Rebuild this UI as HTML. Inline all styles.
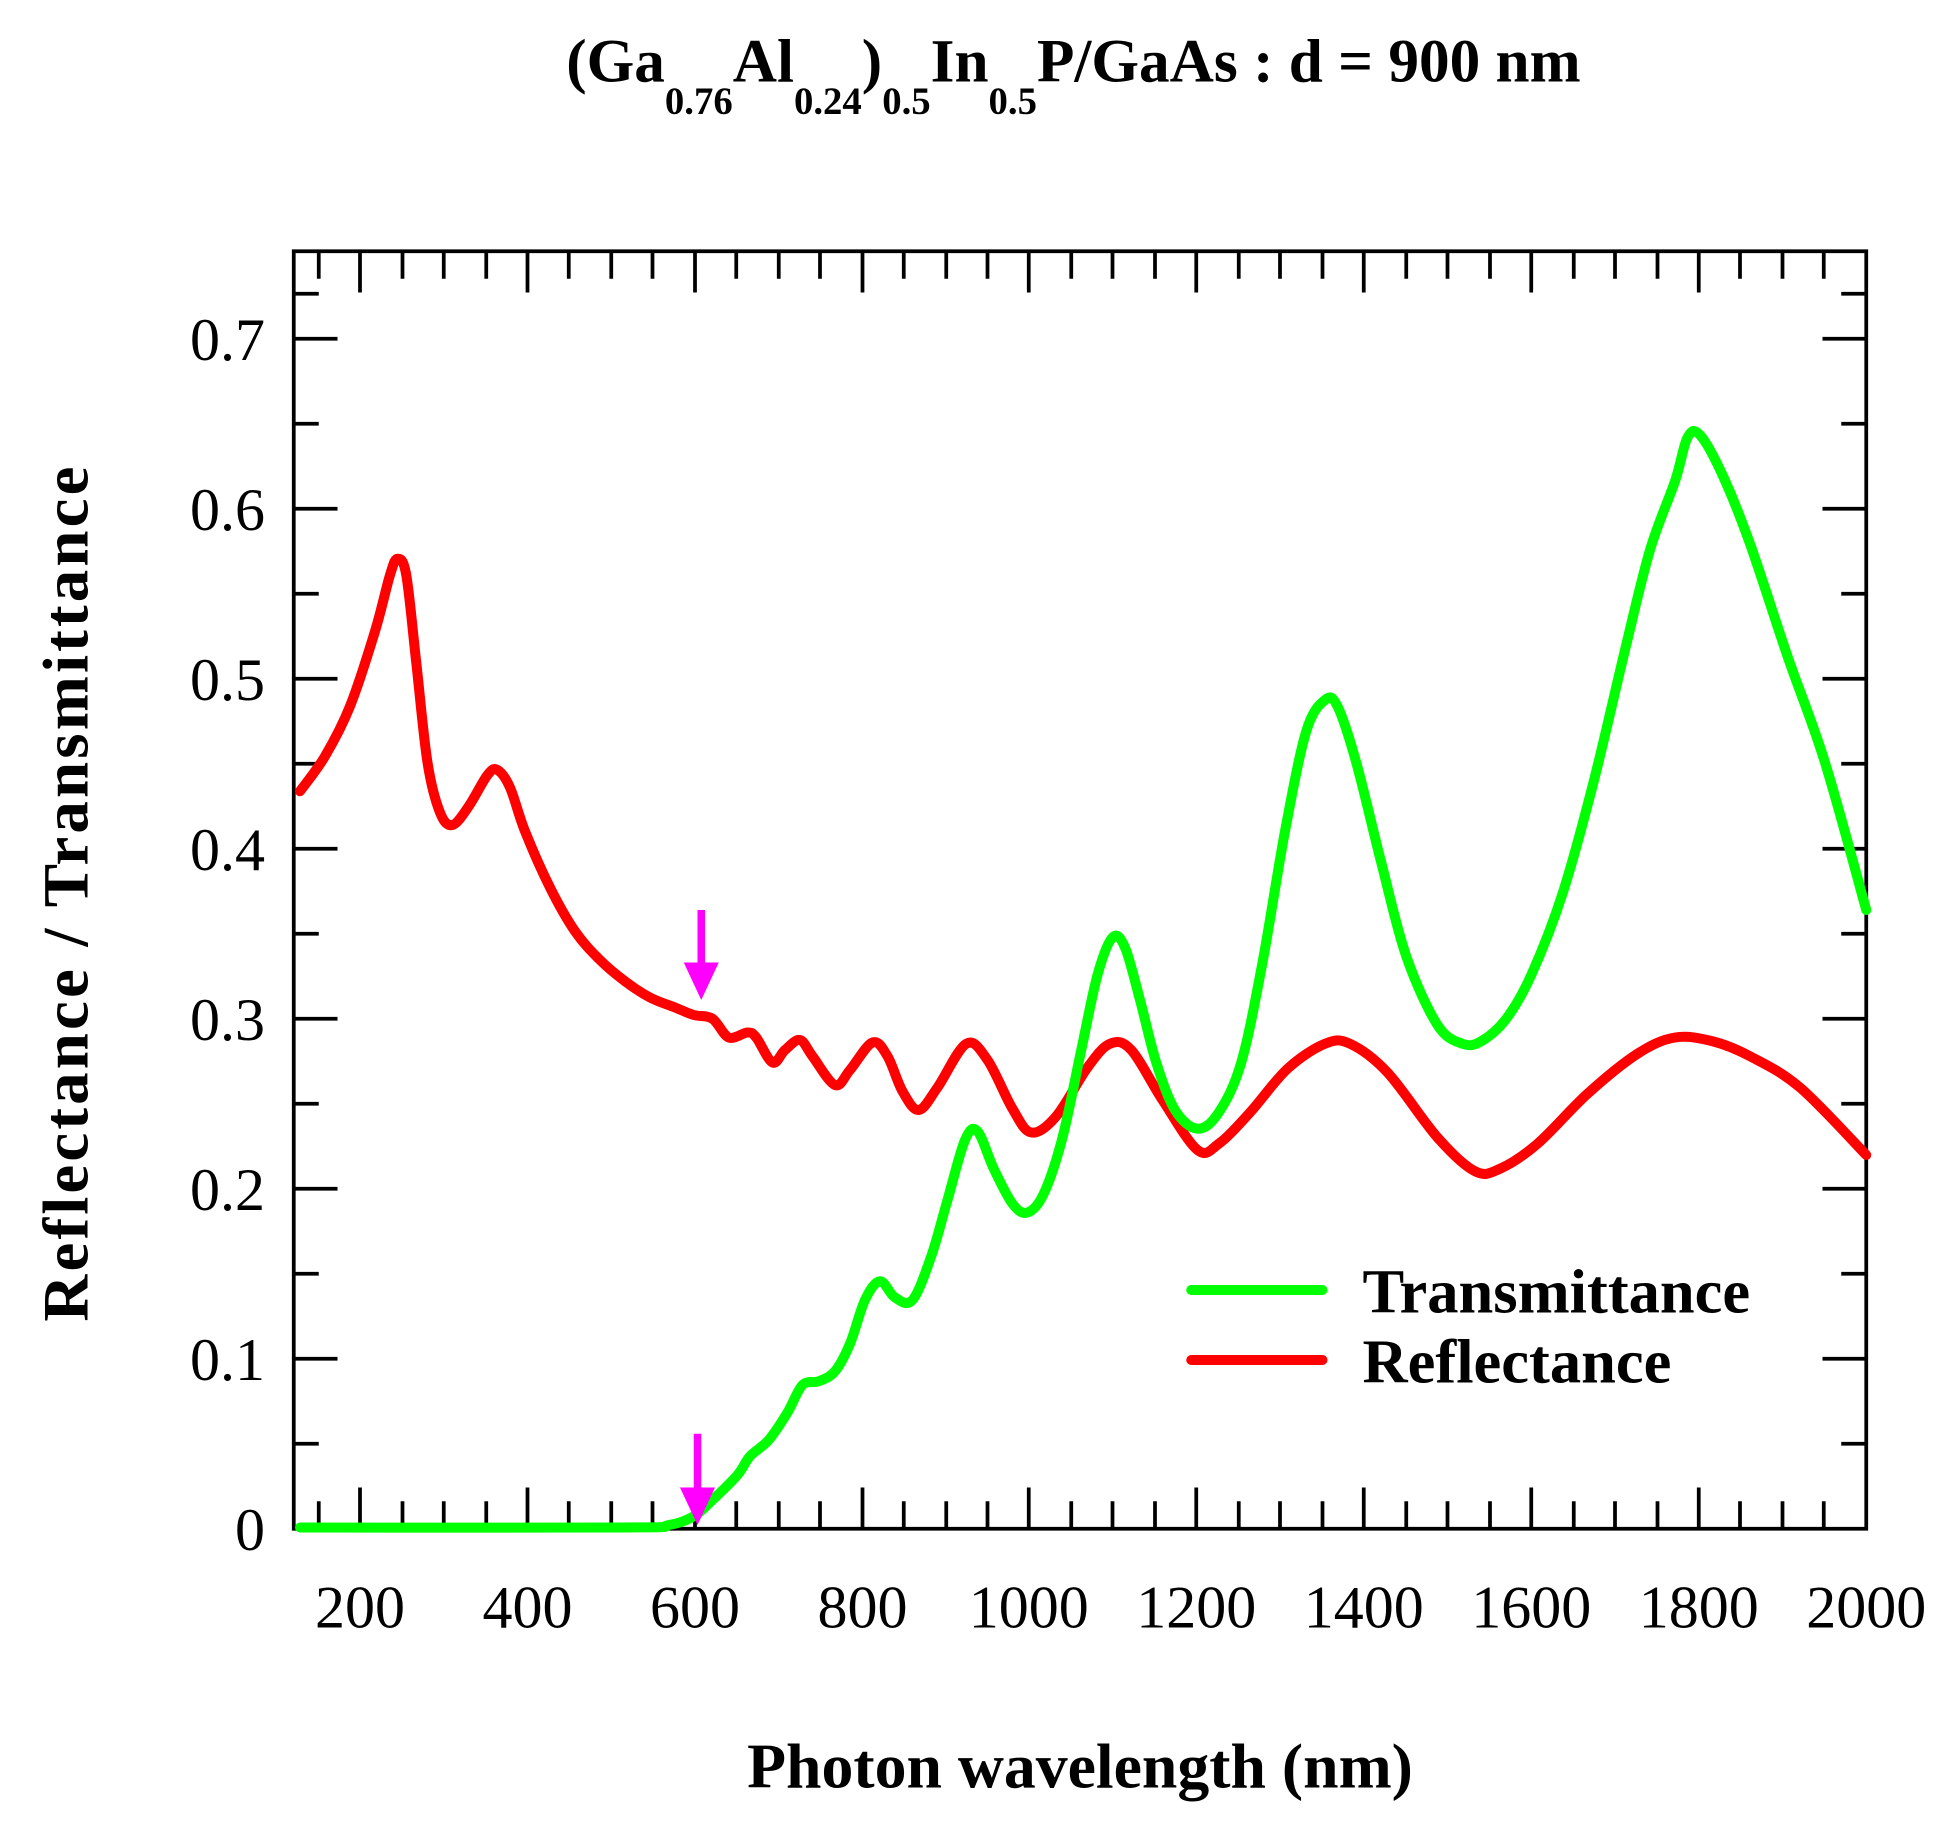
<!DOCTYPE html>
<html><head><meta charset="utf-8"><style>html,body{margin:0;padding:0;background:#fff}svg{display:block}</style></head>
<body>
<svg width="1950" height="1826" viewBox="0 0 1560 1460.8" xmlns="http://www.w3.org/2000/svg" font-family="'Liberation Serif', serif">
<rect x="0" y="0" width="1560" height="1461" fill="#fff"/>
<text x="453" y="65" font-size="49" font-weight="bold">(Ga<tspan font-size="31" dy="26">0.76</tspan><tspan dy="-26">Al</tspan><tspan font-size="31" dy="26">0.24</tspan><tspan dy="-26">)</tspan><tspan font-size="31" dy="26">0.5</tspan><tspan dy="-26">In</tspan><tspan font-size="31" dy="26">0.5</tspan><tspan dy="-26">P/GaAs : d = 900 nm</tspan></text>
<g stroke="#000" stroke-width="3" fill="none">
<rect x="235" y="201" width="1258" height="1022"/>
<path d="
M235,271h35 M235,407h35 M235,543h35 M235,679h35 M235,815h35 M235,951h35 M235,1087h35
M235,235h20 M235,339h20 M235,475h20 M235,611h20 M235,747h20 M235,883h20 M235,1019h20 M235,1155h20
M1493,271h-35 M1493,407h-35 M1493,543h-35 M1493,679h-35 M1493,815h-35 M1493,951h-35 M1493,1087h-35
M1493,235h-20 M1493,339h-20 M1493,475h-20 M1493,611h-20 M1493,747h-20 M1493,883h-20 M1493,1019h-20 M1493,1155h-20"/>
<path d="
M288,1223v-33 M422,1223v-33 M556,1223v-33 M690,1223v-33 M823,1223v-33 M957,1223v-33 M1091,1223v-33 M1225,1223v-33 M1359,1223v-33
M255,1223v-22 M322,1223v-22 M355,1223v-22 M389,1223v-22 M455,1223v-22 M489,1223v-22 M522,1223v-22 M589,1223v-22 M623,1223v-22 M656,1223v-22 M723,1223v-22 M757,1223v-22 M790,1223v-22 M857,1223v-22 M890,1223v-22 M924,1223v-22 M991,1223v-22 M1024,1223v-22 M1058,1223v-22 M1125,1223v-22 M1158,1223v-22 M1192,1223v-22 M1259,1223v-22 M1292,1223v-22 M1326,1223v-22 M1392,1223v-22 M1426,1223v-22 M1459,1223v-22
M288,201v33 M422,201v33 M556,201v33 M690,201v33 M823,201v33 M957,201v33 M1091,201v33 M1225,201v33 M1359,201v33
M255,201v22 M322,201v22 M355,201v22 M389,201v22 M455,201v22 M489,201v22 M522,201v22 M589,201v22 M623,201v22 M656,201v22 M723,201v22 M757,201v22 M790,201v22 M857,201v22 M890,201v22 M924,201v22 M991,201v22 M1024,201v22 M1058,201v22 M1125,201v22 M1158,201v22 M1192,201v22 M1259,201v22 M1292,201v22 M1326,201v22 M1392,201v22 M1426,201v22 M1459,201v22"/>
</g>
<g font-size="48" text-anchor="end">
<text x="212" y="288">0.7</text><text x="212" y="424">0.6</text><text x="212" y="560">0.5</text><text x="212" y="696">0.4</text><text x="212" y="832">0.3</text><text x="212" y="968">0.2</text><text x="212" y="1104">0.1</text><text x="212" y="1240">0</text>
</g>
<g font-size="48" text-anchor="middle">
<text x="288" y="1302">200</text><text x="422" y="1302">400</text><text x="556" y="1302">600</text><text x="690" y="1302">800</text><text x="823" y="1302">1000</text><text x="957" y="1302">1200</text><text x="1091" y="1302">1400</text><text x="1225" y="1302">1600</text><text x="1359" y="1302">1800</text><text x="1493" y="1302">2000</text>
</g>
<text x="864" y="1430" font-size="51" font-weight="bold" text-anchor="middle">Photon wavelength (nm)</text>
<text transform="translate(70,714) rotate(-90)" font-size="52" font-weight="bold" text-anchor="middle" letter-spacing="2.5">Reflectance / Transmittance</text>
<g fill="none" stroke-width="8" stroke-linejoin="round" stroke-linecap="round">
<path id="red" stroke="#ff0000" data-p="240,633 260,605 280,565 300,505 312,460 318,447 325,460 333,530 342,610 352,650 362,660 375,645 390,620 398,616 408,630 420,665 440,710 460,745 480,768 500,785 520,798 540,806 555,812 570,815 583,830 598,826 605,830 618,850 628,840 640,832 650,845 668,868 680,856 698,834 710,845 722,873 735,888 750,870 773,835 790,848 810,887 825,906 845,893 870,854 888,835 905,840 930,880 958,920 975,915 1000,890 1030,855 1060,835 1080,835 1110,858 1150,910 1180,937 1200,935 1230,915 1270,875 1310,843 1340,830 1370,833 1400,845 1440,870 1493,924"/>
<path id="grn" stroke="#00ff00" data-p="240,1222 500,1222 535,1220 555,1213 570,1200 590,1180 600,1165 615,1152 630,1130 642,1108 655,1105 668,1097 680,1075 692,1040 704,1025 716,1038 730,1040 745,1005 758,960 772,912 782,905 795,935 810,963 822,970 835,955 850,910 865,840 878,780 890,750 900,758 912,800 925,850 940,888 958,903 975,890 993,850 1010,770 1028,665 1045,585 1060,560 1070,565 1085,610 1105,690 1125,765 1150,820 1170,835 1185,833 1205,815 1225,780 1250,715 1275,625 1300,520 1320,440 1340,385 1350,350 1360,348 1378,380 1400,435 1430,525 1460,610 1493,728"/>
<line x1="953" y1="1032" x2="1058" y2="1032" stroke="#00ff00"/>
<line x1="953" y1="1088" x2="1058" y2="1088" stroke="#ff0000"/>
</g>
<g font-size="50" font-weight="bold"><text x="1090" y="1050">Transmittance</text><text x="1090" y="1106">Reflectance</text></g>
<g stroke="#ff00ff" stroke-width="6" fill="#ff00ff">
<line x1="561" y1="728" x2="561" y2="785"/><polygon points="547,770 575,770 561,800" stroke="none"/>
<line x1="558" y1="1147" x2="558" y2="1205"/><polygon points="544,1190 572,1190 558,1220" stroke="none"/>
</g>
</svg>
<script>
["red","grn"].forEach(function(id){
 var el=document.getElementById(id);
 var p=el.getAttribute("data-p").split(" ").map(function(s){return s.split(",").map(Number);});
 var d="M"+p[0][0]+","+p[0][1];
 for(var i=0;i<p.length-1;i++){
  var p0=p[i-1]||p[i],p1=p[i],p2=p[i+1],p3=p[i+2]||p2;
  var c1=[p1[0]+(p2[0]-p0[0])/6,p1[1]+(p2[1]-p0[1])/6];
  var c2=[p2[0]-(p3[0]-p1[0])/6,p2[1]-(p3[1]-p1[1])/6];
  d+=" C"+c1[0]+","+c1[1]+" "+c2[0]+","+c2[1]+" "+p2[0]+","+p2[1];
 }
 el.setAttribute("d",d);
});
</script>
</body></html>
